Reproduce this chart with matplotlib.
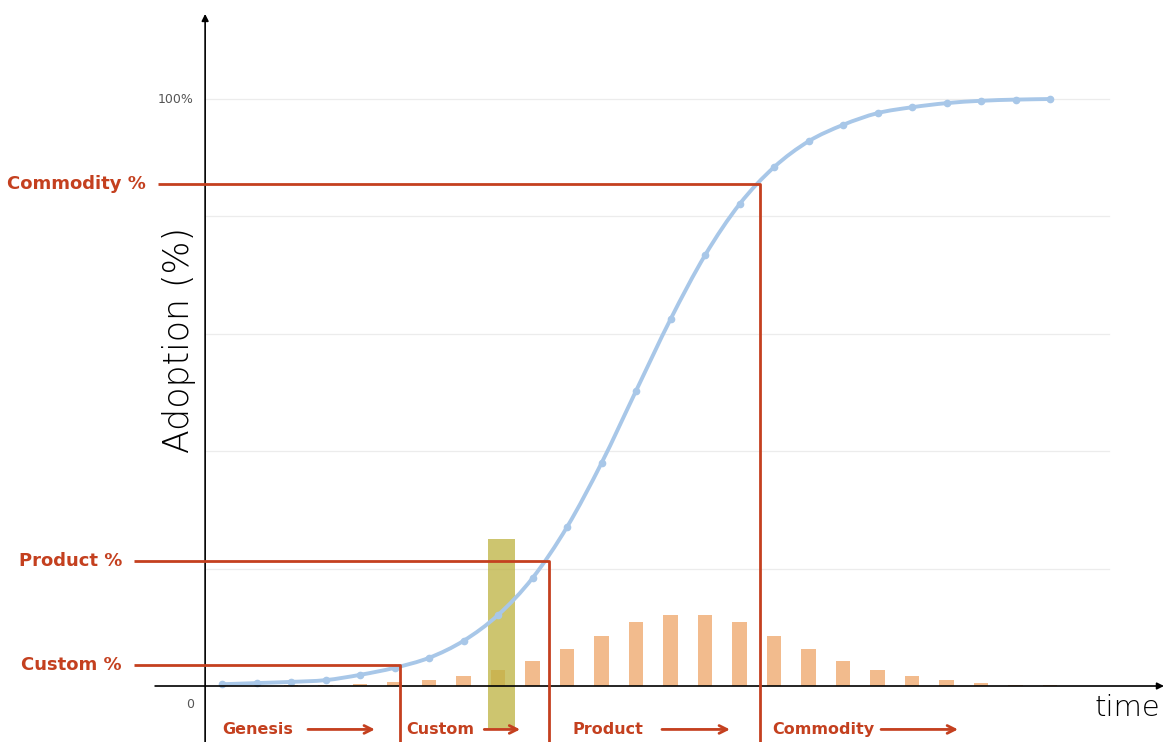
import matplotlib.pyplot as plt
from matplotlib.path import Path
from matplotlib.patches import PathPatch
import numpy as np

# adoption curve (% of market), one point per time step
adoption = [0.3, 0.5, 0.7, 1.0, 1.9, 3.1, 4.8, 7.7, 12.1, 18.4, 27.1, 38.0, 50.3,
            62.5, 73.4, 82.1, 88.4, 92.8, 95.6, 97.6, 98.6, 99.3, 99.7, 99.9, 100.0]
# new adopters per time step (bars), starting at step 2
bar_steps = list(range(2, 26))
bar_values = [0.1, 0.2, 0.35, 0.7, 1.0, 1.7, 2.7, 4.3, 6.3, 8.5, 10.9, 12.1,
              12.1, 10.9, 8.5, 6.3, 4.3, 2.7, 1.7, 1.0, 0.5, 0.2, 0.1, 0.05]

# stage thresholds: label, level on the curve (%), time step where it is reached
stage_labels = ['Custom %', 'Product %', 'Commodity %']
stage_levels = [3.6, 21.3, 85.5]
stage_steps = [5.16, 9.48, 15.6]
stage_label_x = [-2.6, -2.6, -1.9]

# phases along the time axis: name, text start, arrow start, arrow end
phase_names = ['Genesis', 'Custom', 'Product', 'Commodity']
phase_starts = [0.0, 5.33, 10.17, 15.94]
arrow_starts = [2.49, 7.6, 12.75, 19.1]
arrow_ends = [4.43, 8.64, 14.72, 21.33]

# highlighted step (yellow column)
highlight_step = 8.1
highlight_range = (-7.2, 25.0)

gridlines = [20, 40, 60, 80, 100]

RED = '#c4401f'
BLUE = '#a8c7e8'
ORANGE = '#f2bb8d'


def smooth_path(xs, ys):
    # Catmull-Rom through the points, as cubic bezier segments
    pts = np.column_stack([xs, ys])
    verts = [pts[0]]
    codes = [Path.MOVETO]
    n = len(pts)
    for i in range(n - 1):
        p0 = pts[max(i - 1, 0)]
        p1 = pts[i]
        p2 = pts[i + 1]
        p3 = pts[min(i + 2, n - 1)]
        c1 = p1 + (p2 - p0) / 6
        c2 = p2 - (p3 - p1) / 6
        verts += [c1, c2, p2]
        codes += [Path.CURVE4] * 3
    return Path(verts, codes)


def main():
    fig = plt.figure(figsize=(11.64, 7.42), dpi=100)
    ax = fig.add_axes([0, 0, 1, 1])
    ax.set_xlim(-6.435, 27.30)
    ax.set_ylim(-9.54, 116.87)
    ax.axis('off')

    x = np.arange(len(adoption))

    # light grid
    for g in gridlines:
        ax.plot([-0.49, 25.7], [g, g], color='#ececec', lw=0.9, zorder=0)

    # bars
    ax.bar(bar_steps, bar_values, width=0.42, bottom=0, color=ORANGE, zorder=1)

    # highlight column
    ax.bar([highlight_step], [highlight_range[1] - highlight_range[0]], width=0.78,
           bottom=highlight_range[0], color='#bdb23f', alpha=0.75, zorder=2)

    # adoption curve
    ax.add_patch(PathPatch(smooth_path(x, adoption), fill=False, edgecolor=BLUE,
                           lw=2.8, zorder=3))
    ax.plot(x, adoption, linestyle='none', color=BLUE, marker='o', markersize=4.5,
            zorder=3)

    # axes with arrows
    ax.annotate('', xy=(27.3, 0), xytext=(-1.94, 0),
                arrowprops=dict(arrowstyle='-|>', color='black', lw=1.2,
                                mutation_scale=10, shrinkA=0, shrinkB=0))
    ax.annotate('', xy=(-0.49, 114.5), xytext=(-0.49, -9.54),
                arrowprops=dict(arrowstyle='-|>', color='black', lw=1.2,
                                mutation_scale=10, shrinkA=0, shrinkB=0))

    # threshold lines
    for label, lvl, st, lx in zip(stage_labels, stage_levels, stage_steps, stage_label_x):
        ax.plot([lx + 0.05, st, st], [lvl, lvl, -9.54], color=RED, lw=2, zorder=4,
                solid_capstyle='butt')
        ax.text(lx - 0.3, lvl, label, color=RED, fontsize=13, fontweight='bold',
                ha='right', va='center', family='DejaVu Sans')

    # phase labels with arrows
    for name, sx, a0, a1 in zip(phase_names, phase_starts, arrow_starts, arrow_ends):
        ax.text(sx, -7.4, name, color=RED, fontsize=11.5, fontweight='bold',
                ha='left', va='center', family='DejaVu Sans')
        ax.annotate('', xy=(a1, -7.4), xytext=(a0, -7.4),
                    arrowprops=dict(arrowstyle='->', color=RED, lw=2,
                                    mutation_scale=14, shrinkA=0, shrinkB=0))

    ax.text(-0.84, 100, '100%', color='#555555', fontsize=9, ha='right', va='center')
    ax.text(-0.8, -3.1, '0', color='#555555', fontsize=9, ha='right', va='center')

    ax.text(-1.25, 59, 'Adoption (%)', rotation=90, fontsize=25, fontweight='light',
            ha='center', va='center', color='black')
    ax.text(27.2, -3.8, 'time', fontsize=21, fontweight='light',
            ha='right', va='center', color='black')

    fig.savefig('out.png', dpi=100)


if __name__ == '__main__':
    main()
